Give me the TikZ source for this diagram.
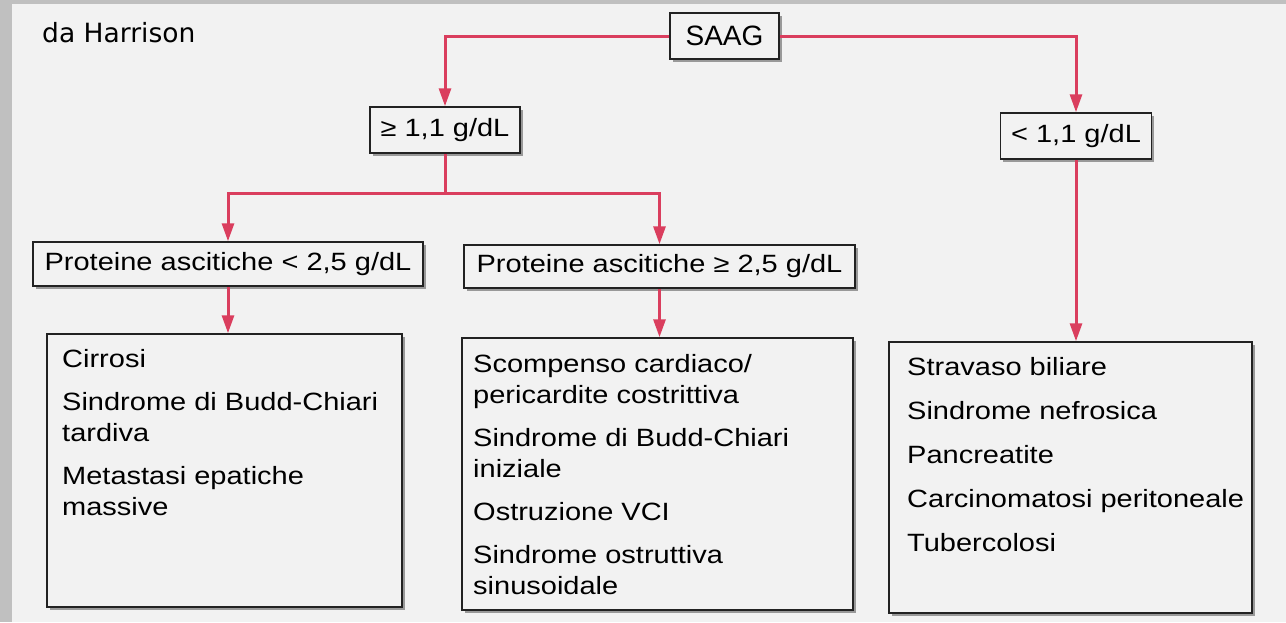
\documentclass[tikz,border=0pt]{standalone}
\usepackage{fontspec}
\setmainfont{Liberation Sans}
\newfontfamily\boxfont[FakeStretch=1.16]{Liberation Sans}
\newfontfamily\titlefont{Liberation Sans}
\newfontfamily\notefont{DejaVu Sans}
\usetikzlibrary{arrows.meta,shadows}
\definecolor{bg}{HTML}{F2F2F2}
\definecolor{framegray}{HTML}{C0C0C0}
\definecolor{arrowred}{RGB}{218,62,94}
\definecolor{boxline}{HTML}{222222}
\tikzset{
  box/.style={draw=boxline, line width=1.5pt, fill=bg, inner sep=0pt,
    drop shadow={shadow xshift=2.5pt, shadow yshift=-2.5pt, fill=black!40, opacity=1}},
  conn/.style={draw=arrowred, line width=3pt, -{Triangle[length=18pt,width=12pt]}},
  plainconn/.style={draw=arrowred, line width=3pt},
  lbl/.style={font=\boxfont\fontsize{25}{30}\selectfont},
  listtext/.style={anchor=base west, inner sep=0pt, font=\boxfont\fontsize{25}{31}\selectfont},
}
\begin{document}
\begin{tikzpicture}[x=1pt,y=-1pt]
\useasboundingbox (0,0) rectangle (1286,622);
\fill[framegray] (0,0) rectangle (1286,622);
\fill[bg] (12,4) rectangle (1286,622);

\node[anchor=base west, inner sep=0pt, font=\notefont\fontsize{26.5}{30}\selectfont] (note) at (42,42) {da Harrison};

\node[box, minimum width=109pt, minimum height=46pt, font=\titlefont\fontsize{28}{32}\selectfont] (saag) at (724.5,36) {SAAG};
\node[box, lbl, minimum width=150pt, minimum height=46pt] (ge) at (445,130) {≥ 1,1 g/dL};
\node[box, lbl, minimum width=151pt, minimum height=46pt] (lt) at (1076,136) {< 1,1 g/dL};

\node[box, lbl, minimum width=390pt, minimum height=44pt] (pl) at (228,264) {Proteine ascitiche < 2,5 g/dL};
\node[box, lbl, minimum width=391pt, minimum height=43pt] (pg) at (659.5,266.5) {Proteine ascitiche ≥ 2,5 g/dL};

\node[box, minimum width=355pt, minimum height=273pt] (c1) at (224.5,470.5) {};
\node[box, minimum width=391pt, minimum height=272pt] (c2) at (657.5,474) {};
\node[box, minimum width=363pt, minimum height=271pt] (c3) at (1070.5,477.5) {};

\node[listtext] (t1) at (62,367) {\begin{tabular}[t]{@{}l@{}}Cirrosi\\[12pt]Sindrome di Budd-Chiari\\tardiva\\[12pt]Metastasi epatiche\\massive\end{tabular}};
\node[listtext] (t2) at (473,372) {\begin{tabular}[t]{@{}l@{}}Scompenso cardiaco/\\pericardite costrittiva\\[12pt]Sindrome di Budd-Chiari\\iniziale\\[12pt]Ostruzione VCI\\[12pt]Sindrome ostruttiva\\sinusoidale\end{tabular}};
\node[listtext] (t3) at (907,375) {\begin{tabular}[t]{@{}l@{}}Stravaso biliare\\[13pt]Sindrome nefrosica\\[13pt]Pancreatite\\[13pt]Carcinomatosi peritoneale\\[13pt]Tubercolosi\end{tabular}};

\coordinate (j) at (445,193);
\draw[conn] (saag.west) -| (ge.north);
\draw[conn] (saag.east) -| (lt.north);
\draw[plainconn] (ge.south) -- (j);
\draw[conn] (j) -| (pl.north);
\draw[conn] (j) -| (pg.north);
\draw[conn] (pl.south) -- (pl.south |- c1.north);
\draw[conn] (pg.south) -- (pg.south |- c2.north);
\draw[conn] (lt.south) -- (lt.south |- c3.north);
\end{tikzpicture}
\end{document}
